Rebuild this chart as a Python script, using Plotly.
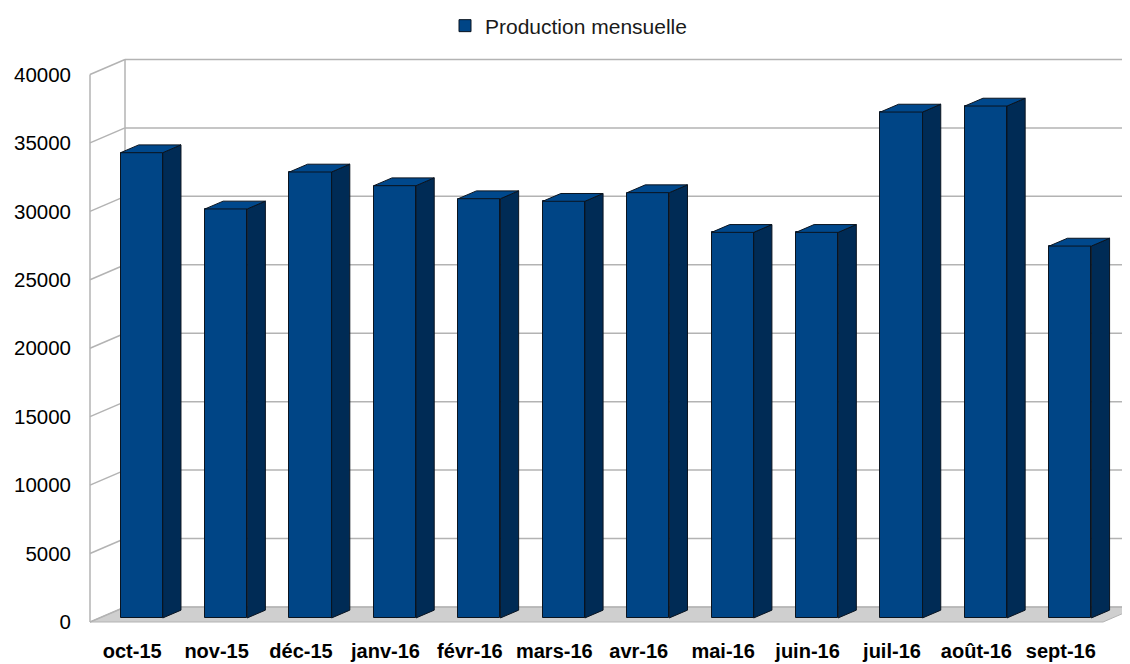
import plotly.graph_objects as go

months = ["oct-15", "nov-15", "déc-15", "janv-16", "févr-16", "mars-16",
          "avr-16", "mai-16", "juin-16", "juil-16", "août-16", "sept-16"]
production = [33990, 29880, 32580, 31580, 30630, 30440,
              31070, 28170, 28170, 36960, 37400, 27170]
y_ticks = [0, 5000, 10000, 15000, 20000, 25000, 30000, 35000, 40000]
series_name = "Production mensuelle"

# ---- layout / pseudo-3D geometry (styling constants) ----
# page body has an 8px margin, so the figure is offset by (8, 8) on screen
OFF = 8
W, H = 1130 - OFF, 664 - OFF
PX_PER_CAT = 84.42          # pixels per category along x
PX_PER_UNIT = 0.013688      # pixels per data unit along y
FRONT_LEFT_PX = 90 - OFF    # front-left corner x pixel
FRONT_BOTTOM_PX = 622 - OFF # front floor edge y pixel
ML, MR, MT = 72, 0, 42
plot_bottom_px = 618
MB = H - plot_bottom_px

x_lo = -0.5 - (FRONT_LEFT_PX - ML) / PX_PER_CAT
x_hi = x_lo + (W - ML - MR) / PX_PER_CAT
y_lo = -(plot_bottom_px - FRONT_BOTTOM_PX) / PX_PER_UNIT
y_hi = y_lo + (plot_bottom_px - MT) / PX_PER_UNIT

DEPTH_X = 35 / PX_PER_CAT    # full depth offset in x units
DEPTH_Y = 15 / PX_PER_UNIT   # full depth offset in y units
BAR_D0, BAR_D1 = 0.27, 0.79  # bar front/back depth fractions
BAR_W = 0.5

n = len(months)
GRID = "#b3b3b3"
FRONT = "#004586"
SIDE = "#002b55"
TOP = "#00488c"
EDGE = "#0a1420"

fig = go.Figure()

shapes = []
# floor
x0 = -0.5
x1 = n - 0.5
shapes.append(dict(type="path", layer="below", xref="x", yref="y",
                   path=f"M{x0},0 L{x1},0 L{x1+DEPTH_X},{DEPTH_Y} L{x0+DEPTH_X},{DEPTH_Y} Z",
                   fillcolor="#cfcfcf", line=dict(color=GRID, width=1)))
# grid lines: left wall diagonal + back wall horizontal
for t in y_ticks:
    shapes.append(dict(type="line", layer="below", xref="x", yref="y",
                       x0=x0, y0=t, x1=x0 + DEPTH_X, y1=t + DEPTH_Y,
                       line=dict(color=GRID, width=1.5)))
    shapes.append(dict(type="line", layer="below", xref="x", yref="y",
                       x0=x0 + DEPTH_X, y0=t + DEPTH_Y, x1=x_hi + 1, y1=t + DEPTH_Y,
                       line=dict(color=GRID, width=1.5)))
# wall vertical edges
shapes.append(dict(type="line", layer="below", xref="x", yref="y",
                   x0=x0, y0=0, x1=x0, y1=y_ticks[-1],
                   line=dict(color=GRID, width=1.5)))
shapes.append(dict(type="line", layer="below", xref="x", yref="y",
                   x0=x0 + DEPTH_X, y0=DEPTH_Y, x1=x0 + DEPTH_X, y1=y_ticks[-1] + DEPTH_Y,
                   line=dict(color=GRID, width=1.5)))

# front faces as real bars
fx = [i + BAR_D0 * DEPTH_X for i in range(n)]
base = BAR_D0 * DEPTH_Y
fig.add_trace(go.Bar(x=fx, y=production, base=base, width=BAR_W, name=series_name,
                     marker=dict(color=FRONT, line=dict(color=EDGE, width=1)),
                     showlegend=True))

# side and top faces computed from the values
ddx = (BAR_D1 - BAR_D0) * DEPTH_X
ddy = (BAR_D1 - BAR_D0) * DEPTH_Y
for i, v in enumerate(production):
    xl = fx[i] - BAR_W / 2
    xr = fx[i] + BAR_W / 2
    yb = base
    yt = base + v
    fig.add_trace(go.Scatter(
        x=[xr, xr + ddx, xr + ddx, xr, xr], y=[yb, yb + ddy, yt + ddy, yt, yb],
        mode="lines", fill="toself", fillcolor=SIDE,
        line=dict(color=EDGE, width=1), showlegend=False, hoverinfo="skip"))
    fig.add_trace(go.Scatter(
        x=[xl, xr, xr + ddx, xl + ddx, xl], y=[yt, yt, yt + ddy, yt + ddy, yt],
        mode="lines", fill="toself", fillcolor=TOP,
        line=dict(color=EDGE, width=1), showlegend=False, hoverinfo="skip"))

fig.update_layout(
    width=W, height=H,
    margin=dict(l=ML, r=MR, t=MT, b=MB),
    paper_bgcolor="white", plot_bgcolor="white",
    font=dict(family="Liberation Sans, Arial, sans-serif", color="#000000"),
    shapes=shapes,
    showlegend=True,
    legend=dict(orientation="h", xref="container", yref="container",
                x=(445 - OFF) / W, xanchor="left", y=1 - (26 - OFF) / H, yanchor="middle",
                font=dict(size=21, color="#1a1a1a"), bgcolor="rgba(0,0,0,0)"),
    xaxis=dict(range=[x_lo, x_hi], showgrid=False, zeroline=False, showline=False,
               tickmode="array", tickvals=list(range(n)), ticktext=months,
               ticks="", ticklabelstandoff=11,
               tickfont=dict(size=20, family="Liberation Sans, Arial, sans-serif",
                             weight="bold", color="#000000")),
    yaxis=dict(range=[y_lo, y_hi], showgrid=False, zeroline=False, showline=False,
               tickmode="array", tickvals=y_ticks, ticktext=[str(t) for t in y_ticks],
               ticks="", ticklabelstandoff=8,
               tickfont=dict(size=20.5, color="#000000")),
    bargap=0,
)

fig.write_html("out.html")
